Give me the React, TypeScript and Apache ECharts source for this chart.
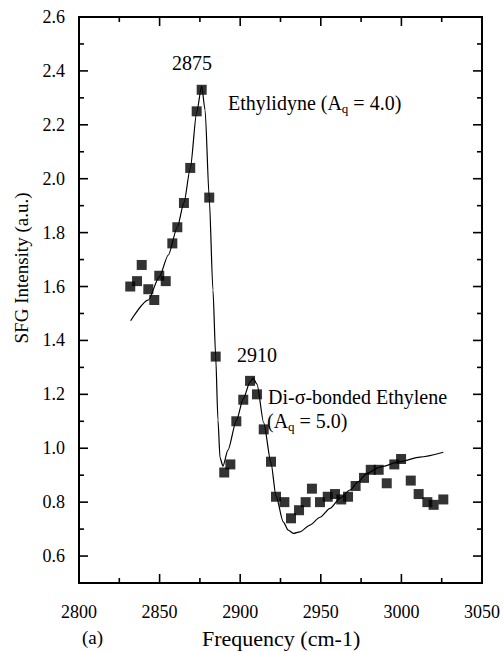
import React, { useEffect, useRef } from 'react';
import * as echarts from 'echarts';

// Measured SFG data points (squares)
const freq = [2831.8, 2836, 2838.9, 2843, 2846.7, 2849.8, 2853.8, 2857.9, 2861, 2865.1, 2869, 2873, 2876.1, 2880.8, 2884.8, 2890.1, 2893.9, 2897.6, 2901.9, 2906.1, 2910.4, 2914.6, 2919.1, 2922.2, 2927.4, 2931.5, 2936.5, 2940.6, 2944.5, 2949.5, 2954.3, 2958.8, 2962.7, 2966.9, 2971.6, 2976.8, 2981, 2985.9, 2990.9, 2995.6, 2999.8, 3005.8, 3010.7, 3016.1, 3020, 3026];
const intensity = [1.60, 1.62, 1.68, 1.59, 1.55, 1.64, 1.62, 1.76, 1.82, 1.91, 2.04, 2.25, 2.33, 1.93, 1.34, 0.91, 0.94, 1.10, 1.18, 1.25, 1.20, 1.07, 0.95, 0.82, 0.80, 0.74, 0.77, 0.80, 0.85, 0.80, 0.82, 0.83, 0.81, 0.82, 0.86, 0.89, 0.92, 0.92, 0.87, 0.94, 0.96, 0.88, 0.83, 0.80, 0.79, 0.81];

// Fitted curve (traced)
const fitFreq = [2832, 2843, 2849.8, 2855.4, 2861, 2865.1, 2869, 2873, 2876.1, 2878.2, 2880.8, 2883.1, 2884.8, 2886.2, 2887.5, 2889.3, 2892.4, 2897.6, 2901.9, 2906.1, 2908, 2910.4, 2914.6, 2919.1, 2922.2, 2926.7, 2929.8, 2932.9, 2937.1, 2943.3, 2949.5, 2955.7, 2961.9, 2968.1, 2973.3, 2978.5, 2986.7, 2999.1, 3011.5, 3026];
const fitValue = [1.473, 1.550, 1.636, 1.717, 1.820, 1.911, 2.037, 2.246, 2.344, 2.255, 1.928, 1.587, 1.340, 1.105, 0.964, 0.934, 0.993, 1.102, 1.183, 1.246, 1.260, 1.238, 1.094, 0.946, 0.823, 0.727, 0.696, 0.684, 0.690, 0.715, 0.744, 0.777, 0.814, 0.845, 0.876, 0.907, 0.930, 0.950, 0.967, 0.985];

// Axis ticks
const xMajorTicks = [2850, 2900, 2950, 3000];
const xMinorTicks = [2825, 2875, 2925, 2975, 3025];
const yMajorTicks = [0.6, 0.8, 1.0, 1.2, 1.4, 1.6, 1.8, 2.0, 2.2, 2.4, 2.6];
const yMinorTicks = [0.7, 0.9, 1.1, 1.3, 1.5, 1.7, 1.9, 2.1, 2.3, 2.5];
const X_MIN = 2800;
const X_MAX = 3050;
const Y_MIN = 0.5;
const Y_MAX = 2.6;

const FONT = 'Liberation Serif';

export default function App() {
  const ref = useRef<HTMLDivElement>(null);
  useEffect(() => {
    if (!ref.current) return;
    const chart = echarts.init(ref.current, null, { renderer: 'svg' });
    const yBase = (position: string, labels: boolean) => ({
      type: 'value',
      position,
      min: Y_MIN,
      max: Y_MAX,
      axisLine: { show: false },
      splitLine: { show: false },
      axisTick: { show: false },
      axisLabel: labels
        ? { customValues: yMajorTicks, margin: 14, color: '#000', fontSize: 18, fontFamily: FONT, formatter: (v: number) => v.toFixed(1) }
        : { show: false },
    });
    const xBase = (position: string, labels: boolean) => ({
      type: 'value',
      position,
      min: X_MIN,
      max: X_MAX,
      interval: 50,
      axisLine: { show: false },
      splitLine: { show: false },
      axisTick: { show: false },
      axisLabel: labels
        ? { margin: 20, color: '#000', fontSize: 18, fontFamily: FONT, formatter: (v: number) => String(v) }
        : { show: false },
    });
    const y0: any = yBase('left', true);
    y0.name = 'SFG Intensity (a.u.)';
    y0.nameLocation = 'middle';
    y0.nameRotate = 90;
    y0.nameGap = 48;
    y0.nameTextStyle = { color: '#000', fontSize: 19, fontFamily: FONT, padding: [0, 0, 0, 64] };

    // frame + inward ticks on all four sides, drawn through the axes' scales
    // kind: 0/1 x major bottom/top, 2/3 x minor bottom/top, 4/5 y major left/right, 6/7 y minor left/right, 8 frame
    const tickData: number[][] = [];
    xMajorTicks.forEach((v) => { tickData.push([v, Y_MIN, 0]); tickData.push([v, Y_MIN, 1]); });
    xMinorTicks.forEach((v) => { tickData.push([v, Y_MIN, 2]); tickData.push([v, Y_MIN, 3]); });
    yMajorTicks.forEach((v) => { tickData.push([X_MIN, v, 4]); tickData.push([X_MIN, v, 5]); });
    yMinorTicks.forEach((v) => { tickData.push([X_MIN, v, 6]); tickData.push([X_MIN, v, 7]); });
    tickData.push([X_MIN, Y_MIN, 8]);

    const renderTicks = (params: any, api: any) => {
      const cs = params.coordSys;
      const kind = api.value(2);
      const p = api.coord([api.value(0), api.value(1)]);
      const w = 1.6;
      const fillStyle = { fill: '#000' };
      if (kind === 8) {
        return {
          type: 'rect',
          shape: { x: cs.x, y: cs.y, width: cs.width, height: cs.height },
          style: { fill: 'none', stroke: '#000', lineWidth: 2 },
        };
      }
      const major = kind === 0 || kind === 1 || kind === 4 || kind === 5;
      const len = major ? 9 : 5;
      const bottom = cs.y + cs.height;
      const right = cs.x + cs.width;
      if (kind <= 3) {
        const x = p[0];
        const isBottom = kind === 0 || kind === 2;
        return {
          type: 'rect',
          shape: { x: x - w / 2, y: isBottom ? bottom - len : cs.y, width: w, height: len },
          style: fillStyle,
        };
      }
      const y = p[1];
      const isLeft = kind === 4 || kind === 6;
      return {
        type: 'rect',
        shape: { x: isLeft ? cs.x : right - len, y: y - w / 2, width: len, height: w },
        style: fillStyle,
      };
    };

    const sub = { fontSize: 13, fontFamily: FONT, color: '#000', verticalAlign: 'bottom', lineHeight: 12 };
    const norm = { fontSize: 20, fontFamily: FONT, color: '#000', lineHeight: 25 };
    const ttl = (left: number, top: number, text: string, size = 20) => ({
      text, left, top, padding: 0,
      textStyle: { fontSize: size, fontFamily: FONT, color: '#000', fontWeight: 'normal', lineHeight: size + 4 },
    });
    const richTtl = (left: number, top: number, text: string) => ({
      text, left, top, padding: 0,
      textStyle: { fontWeight: 'normal', color: '#000', rich: { n: norm, s: sub } },
    });

    chart.setOption({
      animation: false,
      grid: { left: 79, right: 21, top: 17, bottom: 69 },
      title: [
        ttl(172, 51, '2875'),
        richTtl(228, 90, '{n|Ethylidyne (A}{s|q}{n| = 4.0)}'),
        ttl(237, 343, '2910'),
        ttl(268, 385, 'Di-σ-bonded Ethylene'),
        richTtl(267, 408, '{n|(A}{s|q}{n| = 5.0)}'),
        ttl(82, 626, '(a)', 19),
        ttl(202, 625, 'Frequency (cm-1)', 22),
      ],
      xAxis: [xBase('bottom', true), xBase('top', false)],
      yAxis: [y0, yBase('right', false)],
      series: [
        {
          type: 'custom',
          data: tickData,
          renderItem: renderTicks,
          encode: { x: 0, y: 1 },
          clip: false,
          silent: true,
          z: 1,
        },
        {
          type: 'line',
          data: fitFreq.map((f, i) => [f, fitValue[i]]),
          showSymbol: false,
          symbol: 'none',
          smooth: 0.25,
          smoothMonotone: 'x',
          lineStyle: { color: '#000', width: 1.2 },
          z: 2,
        },
        {
          type: 'scatter',
          data: freq.map((f, i) => [f, intensity[i]]),
          symbol: 'rect',
          symbolSize: 10,
          itemStyle: { color: '#000' },
          z: 3,
        },
      ],
    });
    return () => chart.dispose();
  }, []);
  return <div ref={ref} style={{ position: 'absolute', left: 0, top: 0, width: 503, height: 652 }} />;
}
